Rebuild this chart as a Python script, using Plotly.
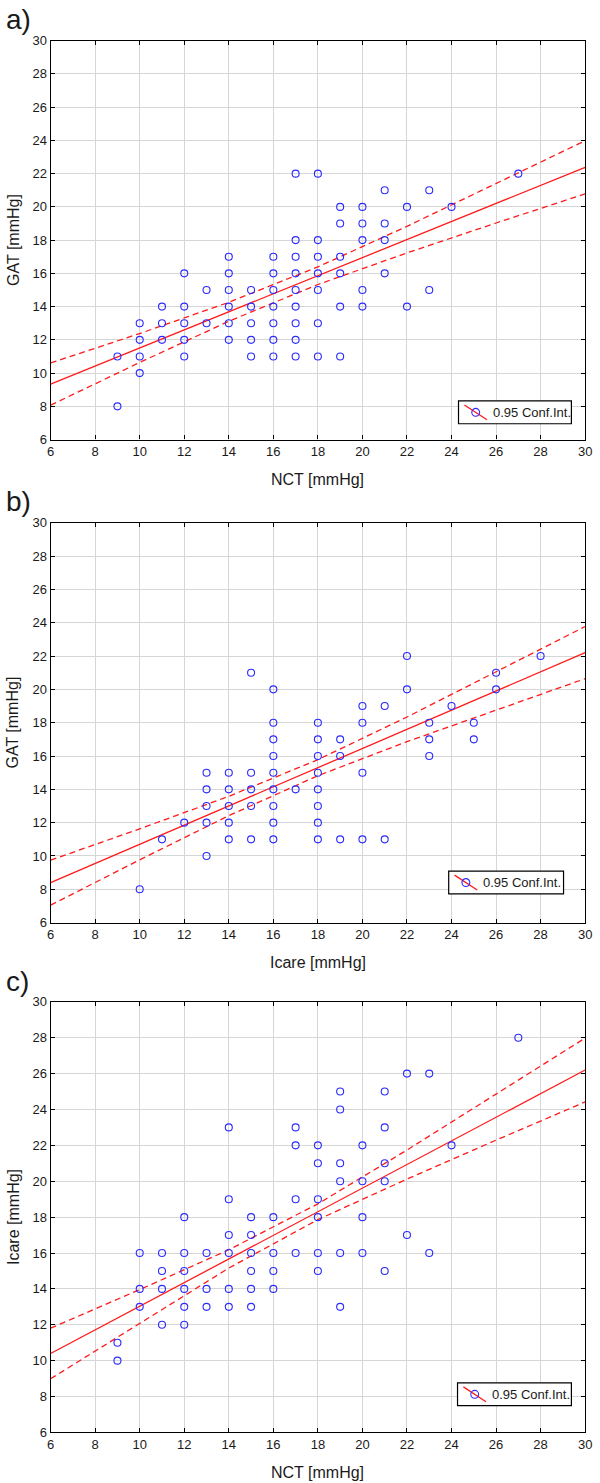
import plotly.graph_objects as go

# Scatter data (x value -> list of y values at that x)
a_nct = [9, 10, 11, 12, 13, 14, 15, 16, 17, 18, 19, 20, 21, 22, 23, 24, 27]
a_gat = [[11, 8], [13, 12, 11, 10], [14, 13, 12], [16, 14, 13, 12, 11], [15, 13],
         [17, 16, 15, 14, 13, 12], [15, 14, 13, 12, 11], [17, 16, 15, 14, 13, 12, 11],
         [22, 18, 17, 16, 15, 14, 13, 12, 11], [22, 18, 17, 16, 15, 13, 11],
         [20, 19, 17, 16, 14, 11], [20, 19, 18, 15, 14], [21, 19, 18, 16], [20, 14],
         [21, 15], [20], [22]]

b_icare = [10, 11, 12, 13, 14, 15, 16, 17, 18, 19, 20, 21, 22, 23, 24, 25, 26, 28]
b_gat = [[8], [11], [12], [15, 14, 13, 12, 10], [15, 14, 13, 12, 11], [21, 15, 14, 13, 11],
         [20, 18, 17, 16, 15, 14, 13, 12, 11], [14], [18, 17, 16, 15, 14, 13, 12, 11],
         [17, 16, 11], [19, 18, 15, 11], [19, 11], [22, 20], [18, 17, 16], [19], [18, 17],
         [21, 20], [22]]

c_nct = [9, 10, 11, 12, 13, 14, 15, 16, 17, 18, 19, 20, 21, 22, 23, 24, 27]
c_icare = [[11, 10], [16, 14, 13], [16, 15, 14, 12], [18, 16, 15, 14, 13, 12], [16, 14, 13],
           [23, 19, 17, 16, 14, 13], [18, 17, 16, 15, 14, 13], [18, 16, 15, 14],
           [23, 22, 19, 16], [22, 21, 19, 18, 16, 15], [25, 24, 21, 20, 16, 13],
           [22, 20, 18, 16], [25, 23, 21, 20, 15], [26, 17], [26, 16], [22], [28]]

# Regression line and 0.95 confidence band, read at these x positions
fit_x = [6, 10, 14, 18, 22, 26, 30]
a_fit = [9.34, 11.51, 13.69, 15.86, 18.03, 20.21, 22.38]
a_upper = [10.61, 12.38, 14.26, 16.39, 18.83, 21.39, 23.98]
a_lower = [8.07, 10.64, 13.12, 15.33, 17.23, 19.03, 20.78]

b_fit = [8.4, 10.7, 13.0, 15.3, 17.6, 19.9, 22.2]
b_upper = [9.75, 11.63, 13.58, 15.78, 18.34, 21.03, 23.77]
b_lower = [7.05, 9.77, 12.42, 14.82, 16.86, 18.77, 20.64]

c_fit = [10.4, 13.03, 15.67, 18.30, 20.93, 23.57, 26.2]
c_upper = [11.81, 13.96, 16.18, 18.74, 21.74, 24.85, 27.98]
c_lower = [8.99, 12.10, 15.16, 17.86, 20.12, 22.29, 24.42]

tags = ["a)", "b)", "c)"]
x_titles = ["NCT [mmHg]", "Icare [mmHg]", "NCT [mmHg]"]
y_titles = ["GAT [mmHg]", "GAT [mmHg]", "Icare [mmHg]"]
legend_text = "0.95 Conf.Int."

W, H = 600, 1483
# pixel geometry of each panel: (top, bottom)
panel_px = [(34, 437), (521, 925), (1005, 1440)]
x_px = (47.5, 592)
legend_px = [(463, 398, 578, 421), (453, 873, 570, 896), (462, 1390, 578, 1413)]


def px(x):
    return x / W


def py(y):
    return 1 - y / H


fig = go.Figure()

panels = [
    (a_nct, a_gat, a_fit, a_upper, a_lower),
    (b_icare, b_gat, b_fit, b_upper, b_lower),
    (c_nct, c_icare, c_fit, c_upper, c_lower),
]

red = "#ff1a1a"
blue = "#2b2bff"
for i, (xs, groups, fit, up, lo) in enumerate(panels):
    xa = "x" if i == 0 else f"x{i + 1}"
    ya = "y" if i == 0 else f"y{i + 1}"

    pts_x, pts_y = [], []
    for xv, ys in zip(xs, groups):
        for yv in ys:
            pts_x.append(xv)
            pts_y.append(yv)

    for band in (up, lo):
        fig.add_trace(go.Scatter(x=fit_x, y=band, mode="lines", xaxis=xa, yaxis=ya,
                                 line=dict(color=red, width=1.3, dash="6px,4px"),
                                 showlegend=False, hoverinfo="skip"))
    fig.add_trace(go.Scatter(x=fit_x, y=fit, mode="lines", xaxis=xa, yaxis=ya,
                             line=dict(color=red, width=1.3),
                             showlegend=False, hoverinfo="skip"))
    fig.add_trace(go.Scatter(x=pts_x, y=pts_y, mode="markers", xaxis=xa, yaxis=ya,
                             marker=dict(symbol="circle-open", size=7, color=blue,
                                         line=dict(width=1.1)),
                             showlegend=False))

axis_style = dict(range=[6, 30], tick0=6, dtick=2, showgrid=True, gridcolor="#d6d6d6",
                  gridwidth=1, showline=True, linecolor="black", linewidth=1.2,
                  mirror="ticks", ticks="inside", ticklen=4, tickcolor="black",
                  zeroline=False, tickfont=dict(size=13, color="#1a1a1a"))

layout = dict(width=W, height=H, margin=dict(l=0, r=0, t=0, b=0),
              plot_bgcolor="white", paper_bgcolor="white", showlegend=False,
              font=dict(family="Liberation Sans, Arial, sans-serif", color="#1a1a1a"))
annotations = []
shapes = []
for i, (top, bottom) in enumerate(panel_px):
    sfx = "" if i == 0 else str(i + 1)
    layout[f"xaxis{sfx}"] = dict(axis_style, domain=[px(x_px[0]), px(x_px[1])],
                                 anchor=f"y{sfx}")
    layout[f"yaxis{sfx}"] = dict(axis_style, domain=[py(bottom), py(top)],
                                 anchor=f"x{sfx}")
    annotations.append(dict(text=tags[i], x=0, y=py(top - 21), xref="paper", yref="paper",
                            xanchor="left", yanchor="middle", showarrow=False,
                            font=dict(size=28)))
    annotations.append(dict(text=x_titles[i], x=px((x_px[0] + x_px[1]) / 2),
                            y=py(bottom + 40), xref="paper", yref="paper",
                            xanchor="center", yanchor="middle", showarrow=False,
                            font=dict(size=16)))
    annotations.append(dict(text=y_titles[i], x=px(9), y=py((top + bottom) / 2),
                            xref="paper", yref="paper", textangle=-90,
                            xanchor="center", yanchor="middle", showarrow=False,
                            font=dict(size=16)))

    # legend key: box, red line with blue circle, label
    l, t, r, b = legend_px[i]
    mid = (t + b) / 2
    shapes.append(dict(type="rect", xref="paper", yref="paper", x0=px(l), x1=px(r),
                       y0=py(b), y1=py(t), line=dict(color="black", width=1.2),
                       fillcolor="white", layer="above"))
    shapes.append(dict(type="line", xref="paper", yref="paper", x0=px(l + 6), x1=px(l + 29),
                       y0=py(t + 4), y1=py(b - 4), line=dict(color=red, width=1.3),
                       layer="above"))
    shapes.append(dict(type="circle", xref="paper", yref="paper", x0=px(l + 13.5),
                       x1=px(l + 21.5), y0=py(mid + 4), y1=py(mid - 4),
                       line=dict(color=blue, width=1.1), layer="above"))
    annotations.append(dict(text=legend_text, x=px(l + 33), y=py(mid), xref="paper",
                            yref="paper", xanchor="left", yanchor="middle",
                            showarrow=False, font=dict(size=13)))
layout["annotations"] = annotations
layout["shapes"] = shapes
fig.update_layout(**layout)

# the page body has a default margin, remove it so the chart sits at (0, 0)
fig.write_html("out.html", config={"displayModeBar": False},
               post_script="document.body.style.margin='0';")
